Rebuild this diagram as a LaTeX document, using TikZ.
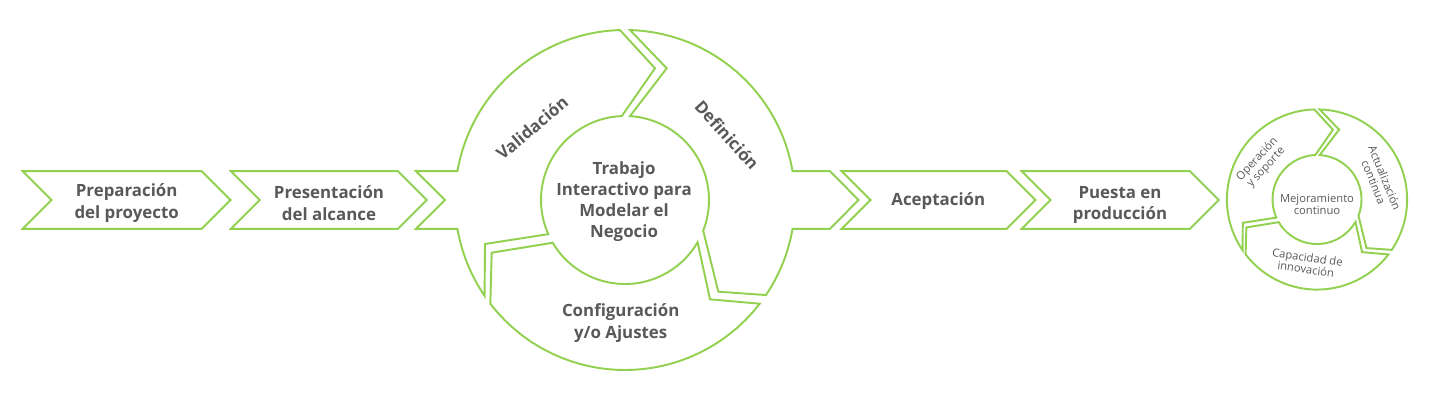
\documentclass[tikz,border=0pt]{standalone}
\usepackage{fontspec}
\setmainfont{Open Sans}
\usepackage{xcolor}
\definecolor{cyclegreen}{HTML}{92D050}
\definecolor{cyclegray}{HTML}{595959}
\tikzset{
  chevron/.style={
    draw=cyclegreen,
    line width=1.1pt,
    fill=white,
    line join=miter
  },
  ringpart/.style={
    draw=cyclegreen,
    line width=1.1pt,
    fill=white,
    line join=miter
  },
  steplabel/.style={
    font=\bfseries\fontsize{9.6}{12.1}\selectfont,
    text=cyclegray,
    align=center,
    inner sep=0pt
  },
  smalllabel/.style={
    font=\fontsize{6.4}{6.8}\selectfont,
    text=cyclegray,
    align=center,
    inner sep=0pt
  }
}

\begin{document}
\begin{tikzpicture}[x=0.02cm, y=0.02cm]
\useasboundingbox (0,0) rectangle (1432,402);

% chevrons of the process
\foreach \xl/\xr in {22.7/201.7, 231/398, 841.7/1006.7, 1021.7/1190}
  \draw[chevron] (\xl,230.8) -- (\xr,230.8) -- ++(28.8,-28.8) -- (\xr,173.2)
    -- (\xl,173.2) -- ++(28.8,28.8) -- cycle;

\node[steplabel] (prep) at (126.7,199) {Preparación\\del proyecto};
\node[steplabel] (alcance) at (329,199) {Presentación\\del alcance};
\node[steplabel] (acept) at (938.3,200.5) {Aceptación};
\node[steplabel] (puesta) at (1120,197) {Puesta en\\producción};

% big cycle
\begin{scope}[shift={(625,202)}]
  \draw[ringpart] (214.3:170) arc[start angle=214.3, end angle=189.75, radius=170]
    -- (-209,-28.8) -- (-180,0) -- (-209,28.8) -- (170.25:170)
    arc[start angle=170.25, end angle=91.7, radius=170]
    -- (30,131.7) -- (92.2:84) arc[start angle=92.2, end angle=204, radius=84]
    -- (-140,-44) -- cycle;
  \draw[ringpart] (88.3:170) arc[start angle=88.3, end angle=9.75, radius=170]
    -- (205,28.8) -- (233.5,0) -- (205,-28.8) -- (-9.75:170)
    arc[start angle=-9.75, end angle=-34, radius=170]
    -- (93.3,-91.7) -- (-21.4:84) arc[start angle=-21.4, end angle=86.6, radius=84]
    -- (41.7,131.7) -- cycle;
  \draw[ringpart] (-37.6:170) arc[start angle=-37.6, end angle=-142.4, radius=170]
    -- (-133.3,-52.7) -- (210.6:84) arc[start angle=210.6, end angle=329.8, radius=84]
    -- (85,-99.3) -- cycle;

  \node[steplabel, rotate=40] (valid) at (-93,72) {Validación};
  \node[steplabel, rotate=-48] (defin) at (102,65) {Definición};
  \node[steplabel] (config) at (-4.3,-123) {Configuración\\y/o Ajustes};
  \node[steplabel] (trabajo) at (-1,-1.7) {Trabajo\\Interactivo para\\Modelar el\\Negocio};
\end{scope}

% small cycle
\begin{scope}[shift={(1317,202.5)}, scale=0.53]
  \draw[ringpart] (214.3:170) arc[start angle=214.3, end angle=91.7, radius=170]
    -- (30,131.7) -- (92.2:84) arc[start angle=92.2, end angle=204, radius=84]
    -- (-140,-44) -- cycle;
  \draw[ringpart] (88.3:170) arc[start angle=88.3, end angle=-34, radius=170]
    -- (93.3,-91.7) -- (-21.4:84) arc[start angle=-21.4, end angle=86.6, radius=84]
    -- (41.7,131.7) -- cycle;
  \draw[ringpart] (-37.6:170) arc[start angle=-37.6, end angle=-142.4, radius=170]
    -- (-133.3,-52.7) -- (210.6:84) arc[start angle=210.6, end angle=329.8, radius=84]
    -- (85,-99.3) -- cycle;
\end{scope}

\node[smalllabel, rotate=47] (operac) at (1261.7,238.7) {Operación\\y soporte};
\node[smalllabel, rotate=-68] (actual) at (1379.3,222) {Actualización\\continua};
\node[smalllabel, rotate=-8] (capac) at (1306.7,138.7) {Capacidad de\\innovación};
\node[smalllabel] (mejora) at (1317,198) {Mejoramiento\\continuo};

\end{tikzpicture}
\end{document}
